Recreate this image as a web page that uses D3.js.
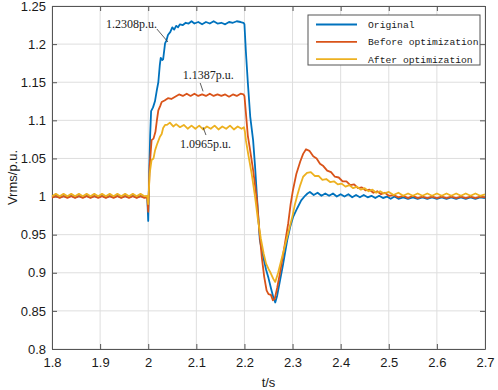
<!DOCTYPE html>
<html>
<head>
<meta charset="utf-8">
<script src="https://cdn.jsdelivr.net/npm/d3@7"></script>
<style>
  body { margin: 0; background: #fff; }
  svg { display: block; }
</style>
</head>
<body>
<div id="chart"></div>
<script>
// values, [t (s), Vrms (p.u.)]
let original = [
    [1.800, 0.9995], [1.808, 1.0008], [1.816, 0.9990], [1.824, 1.0006], [1.832, 0.9992], [1.840, 1.0008],
    [1.848, 0.9990], [1.856, 1.0006], [1.864, 0.9992], [1.872, 1.0008], [1.880, 0.9990], [1.888, 1.0006],
    [1.896, 0.9992], [1.904, 1.0008], [1.912, 0.9990], [1.920, 1.0006], [1.928, 0.9992], [1.936, 1.0008],
    [1.944, 0.9990], [1.952, 1.0006], [1.960, 0.9992], [1.968, 1.0008], [1.976, 0.9990], [1.984, 1.0006],
    [1.992, 0.9992], [1.998, 0.9995], [2.000, 0.968], [2.002, 1.030], [2.004, 1.080], [2.006, 1.112],
    [2.010, 1.117], [2.014, 1.125], [2.018, 1.140], [2.021, 1.150], [2.024, 1.172], [2.026, 1.182],
    [2.029, 1.179], [2.031, 1.180], [2.035, 1.201], [2.038, 1.205], [2.041, 1.212], [2.046, 1.216],
    [2.050, 1.222], [2.054, 1.219], [2.058, 1.224], [2.062, 1.222], [2.066, 1.226], [2.072, 1.225],
    [2.078, 1.228], [2.084, 1.227], [2.090, 1.230], [2.096, 1.227], [2.104, 1.229], [2.112, 1.226],
    [2.120, 1.229], [2.128, 1.227], [2.136, 1.230], [2.144, 1.227], [2.152, 1.228], [2.160, 1.226],
    [2.168, 1.229], [2.176, 1.228], [2.184, 1.230], [2.192, 1.229], [2.198, 1.228], [2.200, 1.226],
    [2.203, 1.190], [2.207, 1.150], [2.212, 1.105], [2.218, 1.074], [2.222, 1.040], [2.226, 1.000],
    [2.232, 0.943], [2.239, 0.921], [2.245, 0.904], [2.250, 0.893], [2.255, 0.880], [2.260, 0.868],
    [2.264, 0.861], [2.268, 0.870], [2.274, 0.890], [2.280, 0.910], [2.289, 0.943], [2.295, 0.960],
    [2.301, 0.973], [2.310, 0.985], [2.318, 0.995], [2.326, 1.001], [2.331, 1.004], [2.336, 1.006],
    [2.344, 1.002], [2.352, 1.005], [2.360, 1.001], [2.368, 1.004], [2.376, 1.001], [2.384, 1.004],
    [2.392, 1.000], [2.400, 1.003], [2.408, 1.000], [2.416, 1.003], [2.424, 0.999], [2.432, 1.002],
    [2.440, 0.999], [2.448, 1.002], [2.456, 0.999], [2.464, 1.001], [2.472, 0.998], [2.480, 1.001],
    [2.488, 0.998], [2.496, 1.000], [2.504, 0.997], [2.512, 1.000], [2.520, 0.997], [2.530, 0.999],
    [2.540, 0.997], [2.550, 0.999], [2.560, 0.997], [2.570, 0.999], [2.580, 0.997], [2.590, 0.999],
    [2.600, 0.997], [2.610, 0.999], [2.620, 0.997], [2.630, 0.999], [2.640, 0.997], [2.650, 0.999],
    [2.660, 0.997], [2.670, 0.999], [2.680, 0.997], [2.690, 0.999], [2.700, 0.998]
];

let beforeOpt = [
    [1.800, 0.9985], [1.808, 1.0005], [1.816, 0.9982], [1.824, 1.0005], [1.832, 0.9982], [1.840, 1.0005],
    [1.848, 0.9982], [1.856, 1.0005], [1.864, 0.9982], [1.872, 1.0005], [1.880, 0.9982], [1.888, 1.0005],
    [1.896, 0.9982], [1.904, 1.0005], [1.912, 0.9982], [1.920, 1.0005], [1.928, 0.9982], [1.936, 1.0005],
    [1.944, 0.9982], [1.952, 1.0005], [1.960, 0.9982], [1.968, 1.0005], [1.976, 0.9982], [1.984, 1.0005],
    [1.992, 0.9982], [1.998, 0.9990], [2.000, 0.980], [2.003, 1.040], [2.007, 1.074], [2.011, 1.076],
    [2.015, 1.085], [2.018, 1.100], [2.021, 1.113], [2.025, 1.119], [2.028, 1.124], [2.034, 1.126],
    [2.041, 1.129], [2.048, 1.128], [2.056, 1.131], [2.064, 1.134], [2.072, 1.132], [2.080, 1.135],
    [2.088, 1.132], [2.096, 1.135], [2.104, 1.132], [2.112, 1.134], [2.120, 1.132], [2.128, 1.135],
    [2.136, 1.132], [2.144, 1.134], [2.152, 1.132], [2.160, 1.134], [2.168, 1.131], [2.176, 1.134],
    [2.184, 1.132], [2.192, 1.135], [2.198, 1.134], [2.200, 1.132], [2.203, 1.110], [2.207, 1.080],
    [2.212, 1.060], [2.218, 1.035], [2.222, 1.015], [2.226, 0.995], [2.231, 0.955], [2.236, 0.921],
    [2.241, 0.895], [2.246, 0.877], [2.250, 0.872], [2.255, 0.871], [2.259, 0.864], [2.263, 0.866],
    [2.268, 0.880], [2.274, 0.900], [2.282, 0.930], [2.291, 0.965], [2.296, 0.990], [2.301, 1.009],
    [2.308, 1.030], [2.316, 1.046], [2.322, 1.056], [2.328, 1.062], [2.335, 1.060], [2.343, 1.053],
    [2.350, 1.050], [2.357, 1.043], [2.364, 1.040], [2.372, 1.034], [2.380, 1.032], [2.388, 1.026],
    [2.396, 1.025], [2.404, 1.020], [2.412, 1.020], [2.420, 1.015], [2.428, 1.016], [2.436, 1.011],
    [2.444, 1.012], [2.452, 1.008], [2.460, 1.009], [2.468, 1.005], [2.476, 1.007], [2.484, 1.003],
    [2.492, 1.005], [2.500, 1.001], [2.510, 1.002], [2.520, 0.999], [2.530, 1.001], [2.540, 0.998],
    [2.550, 1.001], [2.560, 0.998], [2.570, 1.000], [2.580, 0.998], [2.590, 1.000], [2.600, 0.998],
    [2.610, 1.000], [2.620, 0.998], [2.630, 1.000], [2.640, 0.998], [2.650, 1.000], [2.660, 0.998],
    [2.670, 1.000], [2.680, 0.998], [2.690, 1.000], [2.700, 0.999]
];

let afterOpt = [
    [1.800, 1.0005], [1.808, 1.0035], [1.816, 1.0005], [1.824, 1.0035], [1.832, 1.0005], [1.840, 1.0035],
    [1.848, 1.0005], [1.856, 1.0035], [1.864, 1.0005], [1.872, 1.0035], [1.880, 1.0005], [1.888, 1.0035],
    [1.896, 1.0005], [1.904, 1.0035], [1.912, 1.0005], [1.920, 1.0035], [1.928, 1.0005], [1.936, 1.0035],
    [1.944, 1.0005], [1.952, 1.0035], [1.960, 1.0005], [1.968, 1.0035], [1.976, 1.0005], [1.984, 1.0035],
    [1.992, 1.0005], [1.998, 1.0010], [2.000, 0.990], [2.003, 1.030], [2.007, 1.048], [2.011, 1.050],
    [2.014, 1.060], [2.018, 1.068], [2.024, 1.078], [2.028, 1.082], [2.031, 1.090], [2.035, 1.094],
    [2.039, 1.094], [2.045, 1.097], [2.052, 1.092], [2.058, 1.095], [2.066, 1.091], [2.074, 1.094],
    [2.082, 1.089], [2.090, 1.093], [2.098, 1.089], [2.106, 1.093], [2.114, 1.088], [2.122, 1.092],
    [2.130, 1.089], [2.138, 1.093], [2.146, 1.088], [2.154, 1.092], [2.162, 1.089], [2.170, 1.093],
    [2.178, 1.088], [2.186, 1.092], [2.194, 1.089], [2.199, 1.091], [2.201, 1.085], [2.203, 1.074],
    [2.208, 1.055], [2.215, 1.030], [2.222, 1.000], [2.228, 0.970], [2.234, 0.945], [2.240, 0.925],
    [2.245, 0.912], [2.250, 0.905], [2.255, 0.899], [2.260, 0.892], [2.264, 0.888], [2.270, 0.900],
    [2.278, 0.920], [2.290, 0.950], [2.300, 0.975], [2.305, 0.990], [2.310, 1.002], [2.316, 1.015],
    [2.322, 1.026], [2.330, 1.031], [2.338, 1.032], [2.346, 1.027], [2.354, 1.027], [2.362, 1.022],
    [2.370, 1.023], [2.378, 1.019], [2.386, 1.020], [2.394, 1.016], [2.402, 1.017], [2.410, 1.013],
    [2.418, 1.015], [2.426, 1.011], [2.434, 1.013], [2.442, 1.009], [2.450, 1.011], [2.458, 1.007],
    [2.466, 1.009], [2.474, 1.005], [2.482, 1.007], [2.490, 1.004], [2.500, 1.006], [2.510, 1.002],
    [2.520, 1.005], [2.530, 1.001], [2.540, 1.004], [2.550, 1.001], [2.560, 1.004], [2.570, 1.001],
    [2.580, 1.004], [2.590, 1.001], [2.600, 1.004], [2.610, 1.001], [2.620, 1.004], [2.630, 1.001],
    [2.640, 1.004], [2.650, 1.001], [2.660, 1.004], [2.670, 1.001], [2.680, 1.004], [2.690, 1.001],
    [2.700, 1.003]
];

let seriesNames = ['Original', 'Before optimization', 'After optimization'];
let seriesColors = ['#0072BD', '#D95319', '#EDB120'];
let xTicks = [1.8, 1.9, 2.0, 2.1, 2.2, 2.3, 2.4, 2.5, 2.6, 2.7];
let yTicks = [0.8, 0.85, 0.9, 0.95, 1.0, 1.05, 1.1, 1.15, 1.2, 1.25];

// annotations: label anchor and leader line, in data units
let notes = [
    {text: '1.2308p.u.', t: 1.912, v: 1.221, from: [2.018, 1.2198], to: [2.041, 1.2028]},
    {text: '1.1387p.u.', t: 2.072, v: 1.154, from: [2.108, 1.149], to: [2.114, 1.138]},
    {text: '1.0965p.u.', t: 2.066, v: 1.0636, from: [2.120, 1.0807], to: [2.114, 1.091]}
];

let width = 498, height = 390,
    margin = {left: 52, top: 6, right: 13, bottom: 41},
    plotW = width - margin.left - margin.right,
    plotH = height - margin.top - margin.bottom;

let svg = d3.select('#chart').append('svg')
    .attr('width', width)
    .attr('height', height);

let g = svg.append('g')
    .attr('transform', `translate(${margin.left}, ${margin.top})`);

let xScale = d3.scaleLinear().domain([1.8, 2.7]).range([0, plotW]);
let yScale = d3.scaleLinear().domain([0.8, 1.25]).range([plotH, 0]);

// grid
g.append('g').selectAll('line').data(xTicks).join('line')
    .attr('x1', d => xScale(d)).attr('x2', d => xScale(d))
    .attr('y1', 0).attr('y2', plotH)
    .attr('stroke', '#dedede').attr('stroke-width', 1);
g.append('g').selectAll('line').data(yTicks).join('line')
    .attr('x1', 0).attr('x2', plotW)
    .attr('y1', d => yScale(d)).attr('y2', d => yScale(d))
    .attr('stroke', '#dedede').attr('stroke-width', 1);

let fmt = d => String(+d.toFixed(2));

g.append('g')
    .attr('transform', `translate(0, ${plotH})`)
    .call(d3.axisBottom(xScale).tickValues(xTicks).tickFormat(fmt).tickSizeInner(-5).tickSizeOuter(0).tickPadding(9));
g.append('g')
    .call(d3.axisLeft(yScale).tickValues(yTicks).tickFormat(fmt).tickSizeInner(-5).tickSizeOuter(0).tickPadding(6));
g.append('g')
    .call(d3.axisTop(xScale).tickValues(xTicks).tickFormat('').tickSizeInner(-5).tickSizeOuter(0));
g.append('g')
    .attr('transform', `translate(${plotW}, 0)`)
    .call(d3.axisRight(yScale).tickValues(yTicks).tickFormat('').tickSizeInner(-5).tickSizeOuter(0));

g.selectAll('.domain').attr('stroke', '#555');
g.selectAll('.tick line').attr('stroke', '#555');
g.selectAll('.tick text')
    .style('font-family', '"Liberation Sans", Arial, sans-serif')
    .style('font-size', '13px')
    .attr('fill', '#1a1a1a');

// curves
let line = d3.line()
    .x(d => xScale(d[0]))
    .y(d => yScale(d[1]));

let plotG = g.append('g');
[original, beforeOpt, afterOpt].forEach((data, i) => {
    plotG.append('path')
        .datum(data)
        .attr('fill', 'none')
        .attr('stroke', seriesColors[i])
        .attr('stroke-width', 1.8)
        .attr('stroke-linejoin', 'round')
        .attr('d', line);
});

// annotations
let noteG = g.append('g');
notes.forEach(n => {
    noteG.append('line')
        .attr('x1', xScale(n.from[0])).attr('y1', yScale(n.from[1]))
        .attr('x2', xScale(n.to[0])).attr('y2', yScale(n.to[1]))
        .attr('stroke', '#333').attr('stroke-width', 0.8);
    noteG.append('text')
        .attr('x', xScale(n.t))
        .attr('y', yScale(n.v))
        .style('font-family', '"Liberation Serif", "Times New Roman", serif')
        .style('font-size', '12px')
        .attr('fill', '#222')
        .text(n.text);
});

// legend
let legend = svg.append('g')
    .attr('transform', 'translate(308, 15)');
legend.append('rect')
    .attr('width', 172).attr('height', 50)
    .attr('fill', '#fff')
    .attr('stroke', '#555').attr('stroke-width', 1);
seriesNames.forEach((name, i) => {
    let ly = 9.5 + i * 17.3;
    legend.append('line')
        .attr('x1', 8).attr('x2', 49)
        .attr('y1', ly).attr('y2', ly)
        .attr('stroke', seriesColors[i]).attr('stroke-width', 1.8);
    legend.append('text')
        .attr('x', 60).attr('y', ly + 3.5)
        .style('font-family', '"Liberation Mono", "DejaVu Sans Mono", monospace')
        .style('font-size', '9.7px')
        .attr('fill', '#1a1a1a')
        .text(name);
});

// axis titles
svg.append('text')
    .attr('x', margin.left + xScale(2.25))
    .attr('y', 387)
    .attr('text-anchor', 'middle')
    .style('font-family', '"Liberation Sans", Arial, sans-serif')
    .style('font-size', '13px')
    .attr('fill', '#1a1a1a')
    .text('t/s');

svg.append('text')
    .attr('transform', `translate(17, ${margin.top + yScale(1.025)}) rotate(-90)`)
    .attr('text-anchor', 'middle')
    .style('font-family', '"Liberation Sans", Arial, sans-serif')
    .style('font-size', '13px')
    .attr('fill', '#1a1a1a')
    .text('Vrms/p.u.');
</script>
</body>
</html>
